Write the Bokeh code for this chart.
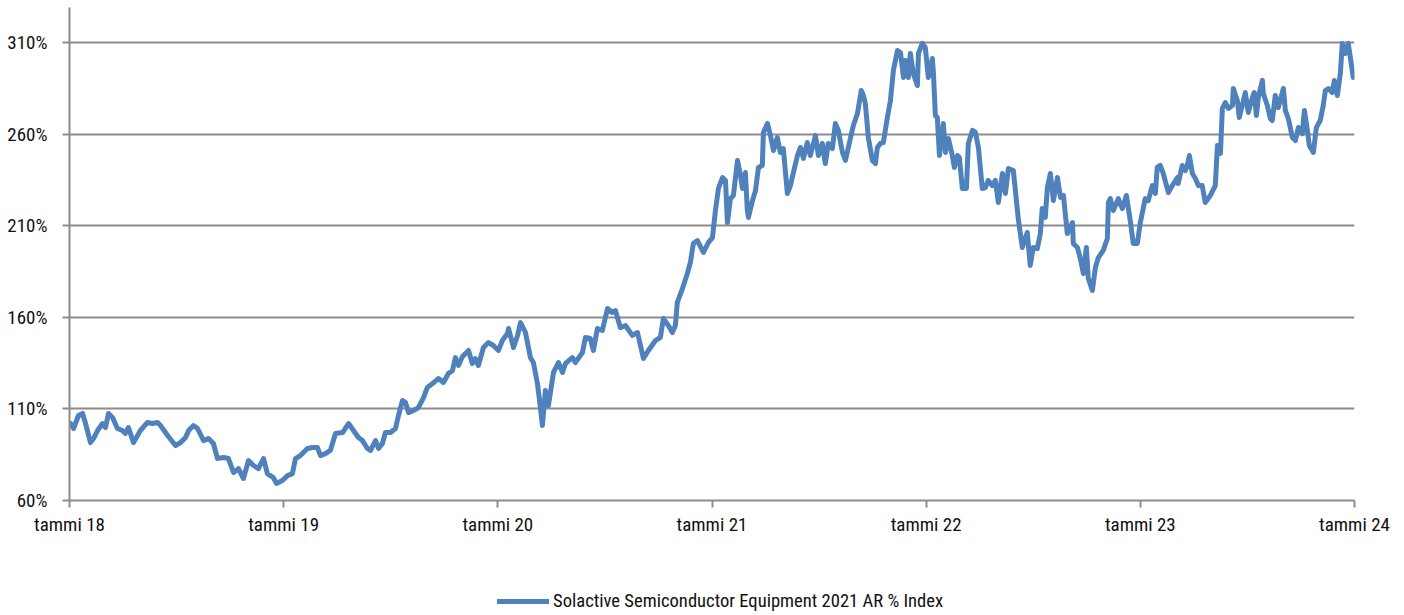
from bokeh.plotting import figure
from bokeh.layouts import column
from bokeh.models import Range1d, FixedTicker, Legend, LegendItem
from bokeh.embed import file_html
from bokeh.resources import INLINE

# ---- data ----
years = [
    2018.005, 2018.019, 2018.042, 2018.061, 2018.075, 2018.098, 2018.112, 2018.131, 2018.154, 2018.168,
    2018.182, 2018.201, 2018.224, 2018.247, 2018.261, 2018.275, 2018.299, 2018.331, 2018.364, 2018.388,
    2018.411, 2018.425, 2018.458, 2018.495, 2018.518, 2018.542, 2018.556, 2018.579, 2018.598, 2018.626,
    2018.649, 2018.672, 2018.691, 2018.719, 2018.742, 2018.766, 2018.789, 2018.812, 2018.836, 2018.859,
    2018.882, 2018.906, 2018.924, 2018.952, 2018.966, 2018.994, 2019.018, 2019.041, 2019.055, 2019.078,
    2019.111, 2019.134, 2019.158, 2019.172, 2019.195, 2019.218, 2019.242, 2019.275, 2019.303, 2019.326,
    2019.349, 2019.368, 2019.391, 2019.405, 2019.429, 2019.443, 2019.461, 2019.475, 2019.499, 2019.522,
    2019.536, 2019.555, 2019.569, 2019.583, 2019.606, 2019.629, 2019.653, 2019.671, 2019.695, 2019.723,
    2019.746, 2019.769, 2019.788, 2019.802, 2019.816, 2019.835, 2019.863, 2019.881, 2019.895, 2019.909,
    2019.933, 2019.956, 2019.979, 2020.003, 2020.021, 2020.045, 2020.050, 2020.073, 2020.092, 2020.106,
    2020.129, 2020.152, 2020.166, 2020.185, 2020.199, 2020.208, 2020.222, 2020.236, 2020.260, 2020.283,
    2020.302, 2020.316, 2020.348, 2020.362, 2020.395, 2020.409, 2020.432, 2020.446, 2020.465, 2020.488,
    2020.512, 2020.535, 2020.549, 2020.572, 2020.596, 2020.628, 2020.652, 2020.680, 2020.703, 2020.736,
    2020.759, 2020.773, 2020.796, 2020.815, 2020.829, 2020.838, 2020.862, 2020.885, 2020.899, 2020.913,
    2020.932, 2020.960, 2020.983, 2021.002, 2021.016, 2021.030, 2021.049, 2021.063, 2021.072, 2021.086,
    2021.100, 2021.119, 2021.133, 2021.142, 2021.156, 2021.165, 2021.170, 2021.189, 2021.203, 2021.217,
    2021.235, 2021.240, 2021.259, 2021.273, 2021.287, 2021.305, 2021.319, 2021.333, 2021.352, 2021.366,
    2021.380, 2021.399, 2021.413, 2021.427, 2021.445, 2021.459, 2021.483, 2021.497, 2021.515, 2021.529,
    2021.543, 2021.562, 2021.576, 2021.590, 2021.609, 2021.623, 2021.646, 2021.660, 2021.679, 2021.697,
    2021.707, 2021.716, 2021.730, 2021.749, 2021.763, 2021.772, 2021.786, 2021.800, 2021.819, 2021.833,
    2021.847, 2021.866, 2021.880, 2021.894, 2021.903, 2021.917, 2021.926, 2021.940, 2021.959, 2021.964,
    2021.982, 2021.996, 2022.010, 2022.029, 2022.034, 2022.043, 2022.052, 2022.062, 2022.080, 2022.090,
    2022.104, 2022.122, 2022.132, 2022.146, 2022.155, 2022.169, 2022.188, 2022.197, 2022.216, 2022.230,
    2022.244, 2022.262, 2022.276, 2022.290, 2022.309, 2022.323, 2022.337, 2022.356, 2022.370, 2022.384,
    2022.407, 2022.430, 2022.449, 2022.472, 2022.486, 2022.500, 2022.519, 2022.533, 2022.542, 2022.556,
    2022.566, 2022.580, 2022.594, 2022.613, 2022.627, 2022.641, 2022.659, 2022.683, 2022.687, 2022.706,
    2022.720, 2022.734, 2022.748, 2022.757, 2022.776, 2022.790, 2022.804, 2022.827, 2022.846, 2022.851,
    2022.860, 2022.874, 2022.897, 2022.916, 2022.935, 2022.953, 2022.967, 2022.986, 2023.000, 2023.023,
    2023.037, 2023.056, 2023.070, 2023.079, 2023.093, 2023.107, 2023.131, 2023.149, 2023.173, 2023.177,
    2023.196, 2023.210, 2023.219, 2023.229, 2023.243, 2023.257, 2023.271, 2023.289, 2023.303, 2023.327,
    2023.350, 2023.360, 2023.374, 2023.383, 2023.397, 2023.411, 2023.430, 2023.434, 2023.453, 2023.462,
    2023.476, 2023.490, 2023.504, 2023.523, 2023.532, 2023.542, 2023.551, 2023.570, 2023.574, 2023.593,
    2023.607, 2023.616, 2023.630, 2023.644, 2023.668, 2023.677, 2023.691, 2023.710, 2023.724, 2023.738,
    2023.756, 2023.766, 2023.780, 2023.789, 2023.808, 2023.822, 2023.840, 2023.854, 2023.864, 2023.878,
    2023.896, 2023.906, 2023.920, 2023.934, 2023.943, 2023.957, 2023.971, 2023.994,
]

index_pct = [
    102.0, 99.3, 106.4, 107.5, 102.0, 91.6, 93.8, 98.2, 102.0, 99.8,
    107.5, 105.3, 99.3, 98.2, 96.6, 99.8, 91.6, 98.2, 102.6, 102.0,
    102.6, 100.9, 95.5, 90.0, 91.6, 94.4, 98.2, 100.9, 99.3, 92.7,
    93.8, 91.1, 82.9, 83.5, 82.9, 75.3, 77.4, 72.0, 81.8, 79.1,
    77.4, 82.9, 74.7, 72.5, 69.3, 70.9, 73.6, 74.7, 82.9, 84.5,
    88.4, 88.9, 88.9, 84.5, 85.6, 87.3, 96.6, 97.1, 102.0, 98.2,
    94.4, 92.7, 88.4, 87.3, 92.7, 88.4, 91.1, 97.1, 97.1, 99.3,
    106.4, 114.6, 113.5, 108.0, 109.1, 110.7, 116.2, 121.7, 123.8, 126.6,
    124.4, 129.3, 130.9, 138.0, 133.7, 138.6, 141.9, 134.8, 137.5, 133.7,
    143.5, 146.2, 144.6, 141.9, 147.3, 151.1, 153.9, 143.5, 150.1, 157.1,
    151.7, 138.0, 135.3, 123.8, 110.7, 100.9, 120.0, 111.8, 129.9, 135.3,
    129.9, 134.8, 138.0, 135.3, 140.8, 149.0, 148.4, 141.9, 153.9, 152.8,
    164.8, 162.6, 163.7, 154.4, 155.5, 150.1, 151.7, 137.5, 141.9, 147.3,
    149.0, 159.3, 155.5, 151.7, 155.5, 168.1, 175.7, 183.9, 189.9, 200.3,
    201.9, 195.4, 200.8, 203.5, 218.3, 230.3, 236.3, 234.7, 211.7, 224.8,
    226.5, 245.6, 237.4, 230.3, 239.0, 218.3, 214.5, 223.7, 229.2, 241.8,
    242.9, 260.9, 265.8, 259.2, 251.0, 258.1, 250.0, 252.1, 227.6, 231.9,
    239.0, 248.3, 252.7, 246.7, 255.4, 248.3, 259.2, 248.3, 254.9, 243.9,
    254.9, 252.1, 265.8, 262.0, 250.0, 245.6, 257.6, 264.7, 271.2, 283.8,
    281.1, 276.7, 258.1, 245.6, 243.9, 252.7, 254.9, 255.4, 269.1, 278.3,
    294.7, 305.6, 304.5, 290.9, 300.2, 290.9, 304.0, 293.1, 286.5, 304.0,
    309.5, 307.3, 290.9, 301.3, 293.1, 270.1, 269.1, 248.3, 265.8, 250.0,
    257.6, 248.3, 241.8, 248.3, 247.2, 230.3, 230.3, 254.9, 262.0, 260.9,
    252.7, 230.3, 230.8, 234.7, 231.9, 234.7, 222.7, 238.5, 227.6, 241.2,
    240.1, 213.9, 198.1, 206.3, 188.3, 198.1, 197.5, 205.7, 219.4, 214.5,
    230.8, 238.5, 223.7, 236.3, 225.4, 226.5, 205.7, 211.7, 200.3, 198.1,
    192.1, 183.9, 198.1, 181.2, 174.6, 187.2, 192.6, 196.5, 203.0, 222.7,
    224.8, 218.3, 224.8, 219.4, 226.5, 212.8, 200.3, 200.3, 211.7, 224.8,
    223.7, 231.9, 227.6, 241.8, 242.9, 238.5, 228.1, 231.9, 236.3, 233.0,
    242.9, 240.1, 242.9, 248.3, 238.5, 235.8, 231.9, 231.9, 222.7, 226.5,
    231.9, 253.8, 249.4, 274.0, 277.2, 274.0, 275.6, 284.9, 278.3, 269.1,
    275.6, 282.7, 271.8, 280.0, 282.7, 270.1, 280.0, 289.3, 282.2, 275.6,
    268.5, 267.4, 281.1, 274.5, 284.9, 272.9, 268.5, 258.1, 256.5, 263.6,
    260.3, 272.9, 262.0, 253.8, 250.0, 263.6, 267.4, 275.6, 283.8, 284.9,
    282.7, 289.3, 281.1, 293.1, 309.5, 304.0, 309.5, 290.9,
]

series_name = "Solactive Semiconductor Equipment 2021 AR % Index"

x_tick_values = [2018, 2019, 2020, 2021, 2022, 2023, 2024]
x_tick_labels = ["tammi 18", "tammi 19", "tammi 20", "tammi 21", "tammi 22", "tammi 23", "tammi 24"]
y_tick_values = [60, 110, 160, 210, 260, 310]
y_tick_labels = ["60%", "110%", "160%", "210%", "260%", "310%"]

# ---- styling ----
FONT = "Roboto Condensed"
FS = "19px"
GRID = "#8c8c8c"
BLUE = "#4f81bd"
TXT = "#111111"
LINE_STYLE = dict(line_color=BLUE, line_width=5, line_join="round", line_cap="round")

p = figure(
    width=1404, height=570,
    output_backend="svg", toolbar_location=None,
    x_range=Range1d(2018, 2024), y_range=Range1d(60, 329.1),
    min_border_left=69, min_border_right=50, min_border_top=7, min_border_bottom=70,
)
p.outline_line_color = None
p.background_fill_color = "white"
p.border_fill_color = "white"

p.line(years, index_pct, **LINE_STYLE)

# x axis
p.xaxis.ticker = FixedTicker(ticks=x_tick_values)
p.xaxis.major_label_overrides = dict(zip(x_tick_values, x_tick_labels))
p.xaxis.minor_tick_line_color = None
p.xaxis.major_tick_in = 0
p.xaxis.major_tick_out = 7
p.xaxis.major_tick_line_color = GRID
p.xaxis.major_tick_line_width = 2
p.xaxis.axis_line_color = GRID
p.xaxis.axis_line_width = 2
p.xaxis.major_label_standoff = 5
p.xaxis.major_label_text_font = FONT
p.xaxis.major_label_text_font_size = FS
p.xaxis.major_label_text_color = TXT

# y axis
p.yaxis.ticker = FixedTicker(ticks=y_tick_values)
p.yaxis.major_label_overrides = dict(zip(y_tick_values, y_tick_labels))
p.yaxis.minor_tick_line_color = None
p.yaxis.major_tick_in = 0
p.yaxis.major_tick_out = 7
p.yaxis.major_tick_line_color = GRID
p.yaxis.major_tick_line_width = 2
p.yaxis.axis_line_color = GRID
p.yaxis.axis_line_width = 2
p.yaxis.major_label_standoff = 15
p.yaxis.major_label_text_font = FONT
p.yaxis.major_label_text_font_size = FS
p.yaxis.major_label_text_color = TXT

# grid
p.xgrid.grid_line_color = None
p.ygrid.ticker = FixedTicker(ticks=y_tick_values)
p.ygrid.grid_line_color = GRID
p.ygrid.grid_line_width = 2

# legend strip below the chart (frame is aligned with the chart's frame)
pl = figure(
    width=1404, height=45,
    output_backend="svg", toolbar_location=None,
    x_range=Range1d(2018, 2024), y_range=Range1d(0, 1),
    x_axis_location=None, y_axis_location=None,
    min_border_left=69, min_border_right=50, min_border_top=0, min_border_bottom=0,
)
pl.outline_line_color = None
pl.grid.visible = False
# one-point line (draws nothing) whose style feeds the legend swatch
sample = pl.line(x=years[:1], y=index_pct[:1], **LINE_STYLE)
legend = Legend(
    items=[LegendItem(label=series_name, renderers=[sample])],
    location=(428, 3),
    orientation="horizontal",
    padding=0, margin=0, spacing=0,
    glyph_width=52, glyph_height=20, label_standoff=4, label_height=20,
    label_text_font=FONT, label_text_font_size="18.6px", label_text_color=TXT,
    border_line_color=None, background_fill_alpha=0,
)
pl.add_layout(legend, "center")

layout = column(p, pl, spacing=0)
open("out.html", "w").write(file_html(layout, INLINE))
